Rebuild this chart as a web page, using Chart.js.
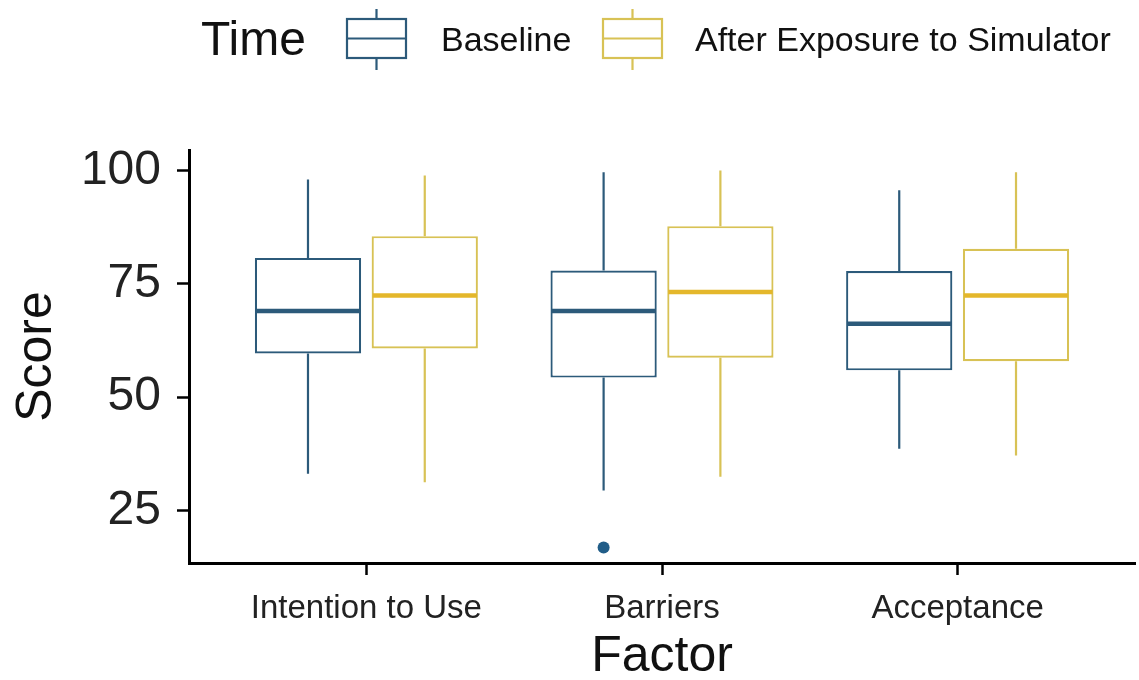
<!DOCTYPE html>
<html lang="en">
<head>
    <meta charset="UTF-8">
    <title>Score by Factor and Time</title>
    <script src="https://cdn.jsdelivr.net/npm/chart.js"></script>
    <style>
        html, body { margin: 0; padding: 0; background: #fff; }
    </style>
</head>
<body>
    <canvas id="boxChart" width="1139" height="680"></canvas>
    <script>
        const factors = ['Intention to Use', 'Barriers', 'Acceptance'];
        const yTicks = [25, 50, 75, 100];
        const seriesNames = ['Baseline', 'After Exposure to Simulator'];

        // five number summaries, one entry per factor
        const baselineMin = [33.1, 29.4, 38.6];
        const baselineQ1 = [59.6, 54.3, 55.9];
        const baselineMedian = [69.0, 69.0, 66.2];
        const baselineQ3 = [80.7, 77.9, 77.8];
        const baselineMax = [98.0, 99.6, 95.6];
        const baselineOutliers = [[], [16.8], []];

        const afterMin = [31.2, 32.4, 37.1];
        const afterQ1 = [60.7, 58.7, 57.9];
        const afterMedian = [72.4, 73.2, 72.4];
        const afterQ3 = [85.5, 87.7, 82.7];
        const afterMax = [98.9, 100.0, 99.6];
        const afterOutliers = [[], [], []];

        const baseColor = '#2c5a7a';
        const afterColor = '#d8c255';
        const afterMedianColor = '#e4b72b';
        const fontFamily = '"Liberation Sans", Arial, sans-serif';

        const stats = [
            { min: baselineMin, q1: baselineQ1, med: baselineMedian, q3: baselineQ3, max: baselineMax, out: baselineOutliers, color: baseColor, medColor: baseColor },
            { min: afterMin, q1: afterQ1, med: afterMedian, q3: afterQ3, max: afterMax, out: afterOutliers, color: afterColor, medColor: afterMedianColor }
        ];

        function boxData(s) {
            return factors.map((f, i) => ({ x: i + 1, y: [s.q1[i], s.q3[i]] }));
        }

        // whiskers, medians and outliers on top of the floating bars
        const boxPlugin = {
            id: 'boxExtras',
            afterDatasetsDraw(chart) {
                const ctx = chart.ctx;
                const y = chart.scales.y;
                stats.forEach((s, di) => {
                    const meta = chart.getDatasetMeta(di);
                    meta.data.forEach((bar, i) => {
                        const half = bar.width / 2;
                        ctx.save();
                        ctx.strokeStyle = s.color;
                        ctx.lineWidth = 2.2;
                        ctx.beginPath();
                        ctx.moveTo(bar.x, y.getPixelForValue(s.q3[i]));
                        ctx.lineTo(bar.x, y.getPixelForValue(s.max[i]));
                        ctx.moveTo(bar.x, y.getPixelForValue(s.q1[i]));
                        ctx.lineTo(bar.x, y.getPixelForValue(s.min[i]));
                        ctx.stroke();
                        ctx.strokeStyle = s.medColor;
                        ctx.lineWidth = 4.5;
                        ctx.beginPath();
                        ctx.moveTo(bar.x - half + 1, y.getPixelForValue(s.med[i]));
                        ctx.lineTo(bar.x + half - 1, y.getPixelForValue(s.med[i]));
                        ctx.stroke();
                        ctx.fillStyle = di === 0 ? '#215d88' : s.color;
                        s.out[i].forEach(v => {
                            ctx.beginPath();
                            ctx.arc(bar.x, y.getPixelForValue(v), 6, 0, Math.PI * 2);
                            ctx.fill();
                        });
                        ctx.restore();
                    });
                });
            }
        };

        function drawKey(ctx, left, color, medColor) {
            ctx.strokeStyle = color;
            ctx.lineWidth = 2.2;
            ctx.strokeRect(left, 19, 59, 39);
            ctx.beginPath();
            ctx.moveTo(left + 29.5, 9);
            ctx.lineTo(left + 29.5, 19);
            ctx.moveTo(left + 29.5, 58);
            ctx.lineTo(left + 29.5, 70);
            ctx.stroke();
            ctx.strokeStyle = medColor;
            ctx.beginPath();
            ctx.moveTo(left, 38.5);
            ctx.lineTo(left + 59, 38.5);
            ctx.stroke();
        }

        const legendPlugin = {
            id: 'timeLegend',
            afterDraw(chart) {
                const ctx = chart.ctx;
                ctx.save();
                ctx.fillStyle = '#111';
                ctx.textBaseline = 'middle';
                ctx.font = '48px ' + fontFamily;
                ctx.fillText('Time', 201, 42);
                drawKey(ctx, 347, baseColor, baseColor);
                ctx.font = '34px ' + fontFamily;
                ctx.fillText(seriesNames[0], 441, 42);
                drawKey(ctx, 603, afterColor, afterColor);
                ctx.fillText(seriesNames[1], 695, 42);
                ctx.restore();
            }
        };

        const config = {
            type: 'bar',
            data: {
                datasets: stats.map((s, di) => ({
                    label: seriesNames[di],
                    data: boxData(s),
                    backgroundColor: '#ffffff',
                    borderColor: s.color,
                    borderWidth: 2.2,
                    borderSkipped: false,
                    categoryPercentage: 0.79,
                    barPercentage: 0.91
                }))
            },
            options: {
                responsive: false,
                animation: false,
                layout: { padding: { top: 150, right: 4, left: 0, bottom: 0 } },
                plugins: {
                    legend: { display: false },
                    tooltip: { enabled: false }
                },
                scales: {
                    x: {
                        type: 'linear',
                        offset: false,
                        min: 0.4,
                        max: 3.6,
                        afterBuildTicks: scale => { scale.ticks = factors.map((f, i) => ({ value: i + 1 })); },
                        afterFit: scale => { scale.height = 117; },
                        ticks: {
                            callback: v => factors[v - 1],
                            color: '#222',
                            font: { family: fontFamily, size: 33 },
                            padding: 14,
                            maxRotation: 0,
                            autoSkip: false
                        },
                        grid: { offset: false, drawOnChartArea: false, drawTicks: true, tickLength: 12, tickColor: '#000', tickWidth: 2.5 },
                        border: { color: '#000', width: 3 },
                        title: {
                            display: true,
                            text: 'Factor',
                            color: '#111',
                            font: { family: fontFamily, size: 50, lineHeight: 0.9 },
                            padding: { top: 0, bottom: 0 }
                        }
                    },
                    y: {
                        min: 13.4,
                        max: 104.5,
                        afterBuildTicks: scale => { scale.ticks = yTicks.map(v => ({ value: v })); },
                        afterFit: scale => { scale.width = 189; },
                        ticks: {
                            color: '#222',
                            font: { family: fontFamily, size: 48 },
                            padding: 16
                        },
                        grid: { drawOnChartArea: false, drawTicks: true, tickLength: 12, tickColor: '#000', tickWidth: 2.5 },
                        border: { color: '#000', width: 3 },
                        title: {
                            display: true,
                            text: 'Score',
                            color: '#111',
                            font: { family: fontFamily, size: 50, lineHeight: 1.2 },
                            padding: { top: 7, bottom: 0 }
                        }
                    }
                }
            },
            plugins: [boxPlugin, legendPlugin]
        };

        const chart = new Chart(document.getElementById('boxChart'), config);
    </script>
</body>
</html>
